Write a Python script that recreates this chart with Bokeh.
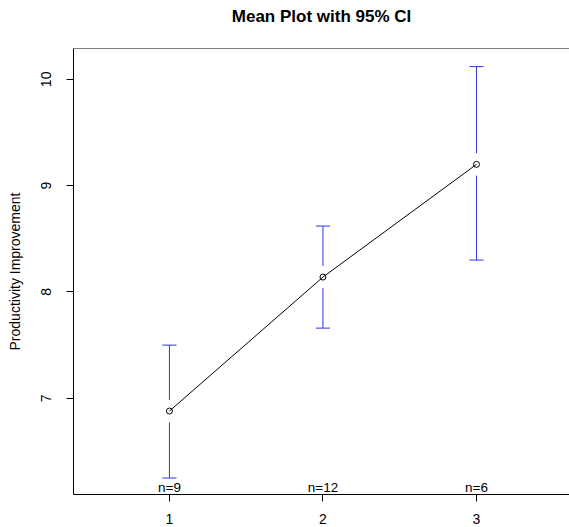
from bokeh.plotting import figure
from bokeh.models import FixedTicker, Span, ColumnDataSource, Range1d, Title
from bokeh.core.properties import value
from bokeh.embed import file_html
from bokeh.resources import INLINE

# ---- data ----
groups = [1, 2, 3]
means = [6.88, 8.14, 9.20]
ci_lower = [6.25, 7.66, 8.30]
ci_upper = [7.50, 8.62, 10.12]
n_labels = ["n=9", "n=12", "n=6"]
x_ticks = [1, 2, 3]
y_ticks = [7, 8, 9, 10]

title_text = "Mean Plot with 95% CI"
y_label = "Productivity Improvement"

# ---- style constants ----
FONT = "Liberation Sans"
GAP = 0.105       # gap (data units) between error bar and mean marker
CAP = 0.046       # half-width of caps (data units)
X0, X1 = 0.375, 3.606
Y0, Y1 = 6.095, 10.29

p = figure(width=569, height=527, output_backend="svg", toolbar_location=None,
           title=None,
           x_range=Range1d(X0, X1), y_range=Range1d(Y0, Y1),
           min_border_left=73, min_border_right=0, min_border_top=48,
           min_border_bottom=33)
p.background_fill_color = "white"
p.border_fill_color = "white"
p.outline_line_color = None
p.grid.visible = False

# trailing empty line lifts the title away from the frame
p.add_layout(Title(text=title_text + "\n", align="center", text_font=FONT,
                   text_font_size="17px", text_font_style="bold",
                   text_color="black", text_line_height=1.0, standoff=7),
             "above")

# axes
for ax in (p.xaxis[0], p.yaxis[0]):
    ax.axis_line_color = "black"
    ax.major_tick_line_color = "black"
    ax.major_tick_out = 7
    ax.major_tick_in = 0
    ax.minor_tick_line_color = None
    ax.major_label_text_font = FONT
    ax.major_label_text_font_size = "14px"
    ax.major_label_text_color = "black"

p.xaxis.ticker = FixedTicker(ticks=x_ticks)
p.xaxis.major_label_standoff = 12
p.yaxis.ticker = FixedTicker(ticks=y_ticks)
p.yaxis.major_label_orientation = "vertical"
p.yaxis.major_label_standoff = 15
p.yaxis.axis_label = y_label
p.yaxis.axis_label_text_font = FONT
p.yaxis.axis_label_text_font_size = "14px"
p.yaxis.axis_label_text_font_style = "normal"
p.yaxis.axis_label_text_color = "black"
p.yaxis.axis_label_standoff = 16

# top border of box
p.add_layout(Span(location=Y1, dimension="width", line_color="black", line_width=1))

# error bars with gaps around the mean
src = ColumnDataSource(dict(
    x=groups, m=means, lo=ci_lower, hi=ci_upper,
    m_lo=[m - GAP for m in means], m_hi=[m + GAP for m in means],
    cl=[g - CAP for g in groups], cr=[g + CAP for g in groups],
    n=n_labels, base=[Y0] * len(groups)))

BAR = "#3333e6"
p.segment(x0="x", y0="lo", x1="x", y1="m_lo", source=src, line_color=BAR, line_width=1)
p.segment(x0="x", y0="m_hi", x1="x", y1="hi", source=src, line_color=BAR, line_width=1)
p.segment(x0="cl", y0="lo", x1="cr", y1="lo", source=src, line_color=BAR, line_width=1)
p.segment(x0="cl", y0="hi", x1="cr", y1="hi", source=src, line_color=BAR, line_width=1)

# connecting line and markers
p.line(x="x", y="m", source=src, line_color="black", line_width=1)
p.scatter(x="x", y="m", source=src, marker="circle", size=6,
          fill_color=None, line_color="black", line_width=1)

# n labels
p.text(x="x", y="base", text="n", source=src, text_font=value(FONT),
       text_font_size="13.5px", text_align="center", text_baseline="alphabetic",
       y_offset=-7, text_color="black")

open("out.html", "w").write(file_html(p, INLINE))
